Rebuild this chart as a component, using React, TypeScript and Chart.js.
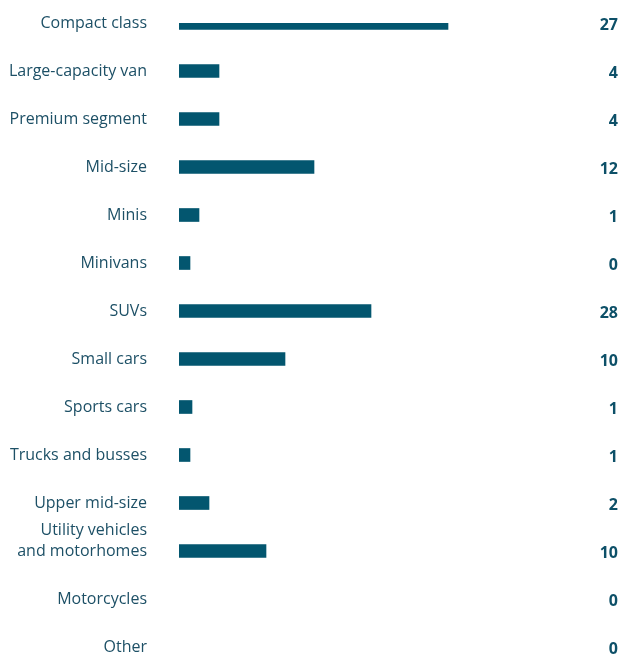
import React, { useEffect, useRef } from "react";
import { Chart, registerables } from "chart.js";

Chart.register(...registerables);

const categories: (string | string[])[] = [
  "Compact class",
  "Large-capacity van",
  "Premium segment",
  "Mid-size",
  "Minis",
  "Minivans",
  "SUVs",
  "Small cars",
  "Sports cars",
  "Trucks and busses",
  "Upper mid-size",
  ["Utility vehicles", "and motorhomes", ""],
  "Motorcycles",
  "Other",
];

const barValues = [26.9, 4.0, 4.0, 13.5, 2.0, 1.1, 19.2, 10.6, 1.3, 1.1, 3.0, 8.7, 0, 0];

const valueLabels = ["27", "4", "4", "12", "1", "0", "28", "10", "1", "1", "2", "10", "0", "0"];

const FONT = "'Open Sans', sans-serif";
const BAR_COLOR = "#03566f";
const LABEL_COLOR = "#1d5066";
const VALUE_COLOR = "#0d5068";

export default function App() {
  const ref = useRef<HTMLCanvasElement | null>(null);

  useEffect(() => {
    document.body.style.margin = "0";
    document.body.style.overflow = "hidden";
    const valuePlugin = {
      id: "valueLabels",
      afterDatasetsDraw(chart: any) {
        const ctx = chart.ctx;
        const y = chart.scales.y;
        ctx.save();
        ctx.font = `bold 16px ${FONT}`;
        ctx.fillStyle = VALUE_COLOR;
        ctx.textAlign = "right";
        ctx.textBaseline = "middle";
        valueLabels.forEach((t, i) => {
          ctx.fillText(t, 618, y.getPixelForValue(i) + 2);
        });
        ctx.restore();
      },
    };
    const chart = new Chart(ref.current as HTMLCanvasElement, {
      type: "bar",
      data: {
        labels: categories as any,
        datasets: [
          {
            data: barValues,
            backgroundColor: (c: any) => (c.raw === 0 ? "rgba(0,0,0,0)" : BAR_COLOR),
            borderWidth: 0,
            barThickness: 13,
          },
        ],
      },
      options: {
        indexAxis: "y",
        animation: false,
        responsive: false,
        maintainAspectRatio: false,
        layout: { padding: { top: 23, bottom: 7, left: 0, right: 42 } },
        plugins: { legend: { display: false }, tooltip: { enabled: false } },
        scales: {
          x: { display: false, min: 0, max: 40 },
          y: {
            offset: false,
            grid: { display: false, drawTicks: false },
            border: { display: false },
            afterFit: (scale: any) => {
              scale.width = 179;
              scale.paddingTop = 0;
              scale.paddingBottom = 0;
            },
            ticks: {
              padding: 32,
              color: LABEL_COLOR,
              font: { family: FONT, size: 16, weight: 500, lineHeight: 1.3125 },
              autoSkip: false,
            },
          },
        },
      },
      plugins: [valuePlugin],
    });
    return () => chart.destroy();
  }, []);

  return (
    <div style={{ position: "absolute", left: 0, top: 0, width: 621, height: 654 }}>
      <canvas ref={ref} width={621} height={654} style={{ width: 621, height: 654 }} />
    </div>
  );
}
